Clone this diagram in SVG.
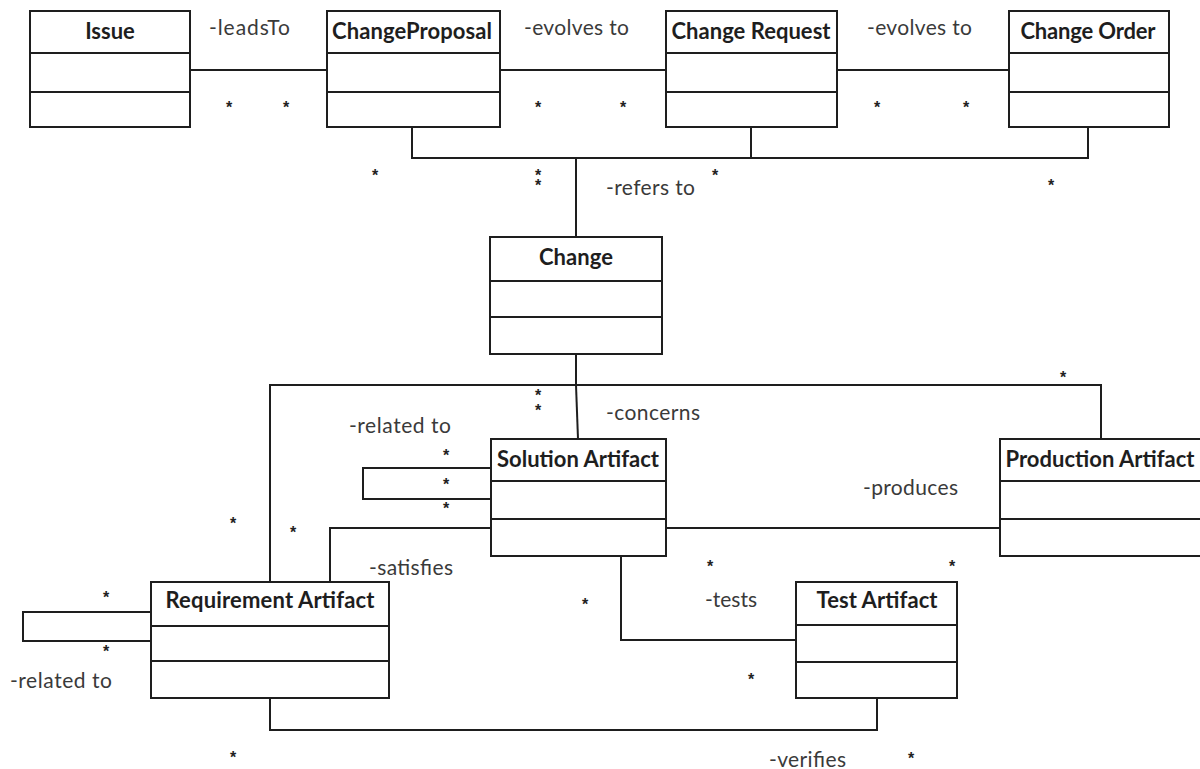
<svg xmlns="http://www.w3.org/2000/svg" width="1200" height="769" viewBox="0 0 1200 769">
  <style>
    .box { fill: #ffffff; stroke: #1e1e1e; stroke-width: 2; }
    .sep { stroke: #1e1e1e; stroke-width: 2; }
    .title { font-family: Lato, "Liberation Sans", sans-serif; font-weight: bold; font-size: 22px; fill: #1e1e1e; text-anchor: middle; }
    .lbl { font-family: Lato, "Liberation Sans", sans-serif; font-size: 21px; fill: #3a3a3a; }
    .star { font-family: "Liberation Sans", sans-serif; font-size: 16px; font-weight: bold; fill: #222; text-anchor: middle; }
    .conn { fill: none; stroke: #1e1e1e; stroke-width: 2; }
  </style>
  <rect width="1200" height="769" fill="#ffffff"/>

  <g id="connectors">
    <line class="conn" x1="190" y1="70" x2="327" y2="70"/>
    <line class="conn" x1="500" y1="70" x2="666" y2="70"/>
    <line class="conn" x1="837" y1="70" x2="1009" y2="70"/>
    <polyline class="conn" points="412,127 412,158 1088,158 1088,127"/>
    <line class="conn" x1="751" y1="127" x2="751" y2="158"/>
    <line class="conn" x1="576" y1="158" x2="576" y2="237"/>
    <line class="conn" x1="576" y1="354" x2="576" y2="385"/>
    <polyline class="conn" points="270,582 270,385 1101,385 1101,439"/>
    <line class="conn" x1="576" y1="385" x2="578" y2="439"/>
    <polyline class="conn" points="491,468 363,468 363,499 491,499"/>
    <polyline class="conn" points="491,528 330,528 330,582"/>
    <line class="conn" x1="666" y1="528" x2="1000" y2="528"/>
    <polyline class="conn" points="621,556 621,640 796,640"/>
    <polyline class="conn" points="270,698 270,730 877,730 877,698"/>
    <polyline class="conn" points="151,612 23,612 23,641 151,641"/>
  </g>

  <g id="labels">
    <text class="lbl" x="209" y="35" textLength="81">-leadsTo</text>
    <text class="lbl" x="524" y="35" textLength="105">-evolves to</text>
    <text class="lbl" x="867" y="35" textLength="105">-evolves to</text>
    <text class="lbl" x="606" y="195" textLength="89">-refers to</text>
    <text class="lbl" x="606" y="420" textLength="94">-concerns</text>
    <text class="lbl" x="349" y="433" textLength="102">-related to</text>
    <text class="lbl" x="863" y="495" textLength="95">-produces</text>
    <text class="lbl" x="369" y="575" textLength="84">-satisfies</text>
    <text class="lbl" x="705" y="607" textLength="52">-tests</text>
    <text class="lbl" x="769" y="767" textLength="77">-verifies</text>
    <text class="lbl" x="10" y="688" textLength="102">-related to</text>
  </g>

  <g id="multiplicities">
    <text class="star" x="229" y="113">*</text>
    <text class="star" x="286" y="113">*</text>
    <text class="star" x="538" y="113">*</text>
    <text class="star" x="623" y="113">*</text>
    <text class="star" x="877" y="113">*</text>
    <text class="star" x="966" y="113">*</text>
    <text class="star" x="375" y="181">*</text>
    <text class="star"><tspan x="538" y="181">*</tspan><tspan x="538" y="191">*</tspan></text>
    <text class="star" x="715" y="181">*</text>
    <text class="star" x="1051" y="191">*</text>
    <text class="star"><tspan x="538" y="401">*</tspan><tspan x="538" y="416">*</tspan></text>
    <text class="star" x="1063" y="383">*</text>
    <text class="star" x="446" y="461">*</text>
    <text class="star" x="446" y="490">*</text>
    <text class="star" x="446" y="514">*</text>
    <text class="star" x="233" y="529">*</text>
    <text class="star" x="293" y="538">*</text>
    <text class="star" x="106" y="603">*</text>
    <text class="star" x="106" y="657">*</text>
    <text class="star" x="233" y="763">*</text>
    <text class="star" x="585" y="610">*</text>
    <text class="star" x="710" y="572">*</text>
    <text class="star" x="952" y="572">*</text>
    <text class="star" x="751" y="685">*</text>
    <text class="star" x="911" y="764">*</text>
  </g>

  <g id="issue">
    <rect class="box" x="30" y="11" width="160" height="116"/>
    <line class="sep" x1="30" y1="53" x2="190" y2="53"/>
    <line class="sep" x1="30" y1="92" x2="190" y2="92"/>
    <text class="title" x="110" y="39">Issue</text>
  </g>
  <g id="change-proposal">
    <rect class="box" x="327" y="11" width="173" height="116"/>
    <line class="sep" x1="327" y1="53" x2="500" y2="53"/>
    <line class="sep" x1="327" y1="92" x2="500" y2="92"/>
    <text class="title" x="412" y="39" textLength="160">ChangeProposal</text>
  </g>
  <g id="change-request">
    <rect class="box" x="666" y="11" width="171" height="116"/>
    <line class="sep" x1="666" y1="53" x2="837" y2="53"/>
    <line class="sep" x1="666" y1="92" x2="837" y2="92"/>
    <text class="title" x="751" y="39" textLength="159">Change Request</text>
  </g>
  <g id="change-order">
    <rect class="box" x="1009" y="11" width="160" height="116"/>
    <line class="sep" x1="1009" y1="53" x2="1169" y2="53"/>
    <line class="sep" x1="1009" y1="92" x2="1169" y2="92"/>
    <text class="title" x="1088" y="39" textLength="135">Change Order</text>
  </g>
  <g id="change">
    <rect class="box" x="490" y="237" width="172" height="117"/>
    <line class="sep" x1="490" y1="281" x2="662" y2="281"/>
    <line class="sep" x1="490" y1="317" x2="662" y2="317"/>
    <text class="title" x="576" y="265" textLength="74">Change</text>
  </g>
  <g id="solution-artifact">
    <rect class="box" x="491" y="439" width="175" height="117"/>
    <line class="sep" x1="491" y1="481" x2="666" y2="481"/>
    <line class="sep" x1="491" y1="519" x2="666" y2="519"/>
    <text class="title" x="578" y="467" textLength="162">Solution Artifact</text>
  </g>
  <g id="production-artifact">
    <rect class="box" x="1000" y="439" width="201" height="117"/>
    <line class="sep" x1="1000" y1="481" x2="1201" y2="481"/>
    <line class="sep" x1="1000" y1="519" x2="1201" y2="519"/>
    <text class="title" x="1100" y="467" textLength="189">Production Artifact</text>
  </g>
  <g id="requirement-artifact">
    <rect class="box" x="151" y="582" width="238" height="116"/>
    <line class="sep" x1="151" y1="626" x2="389" y2="626"/>
    <line class="sep" x1="151" y1="661" x2="389" y2="661"/>
    <text class="title" x="270" y="608" textLength="209">Requirement Artifact</text>
  </g>
  <g id="test-artifact">
    <rect class="box" x="796" y="582" width="161" height="116"/>
    <line class="sep" x1="796" y1="625" x2="957" y2="625"/>
    <line class="sep" x1="796" y1="662" x2="957" y2="662"/>
    <text class="title" x="877" y="608" textLength="121">Test Artifact</text>
  </g>
</svg>
